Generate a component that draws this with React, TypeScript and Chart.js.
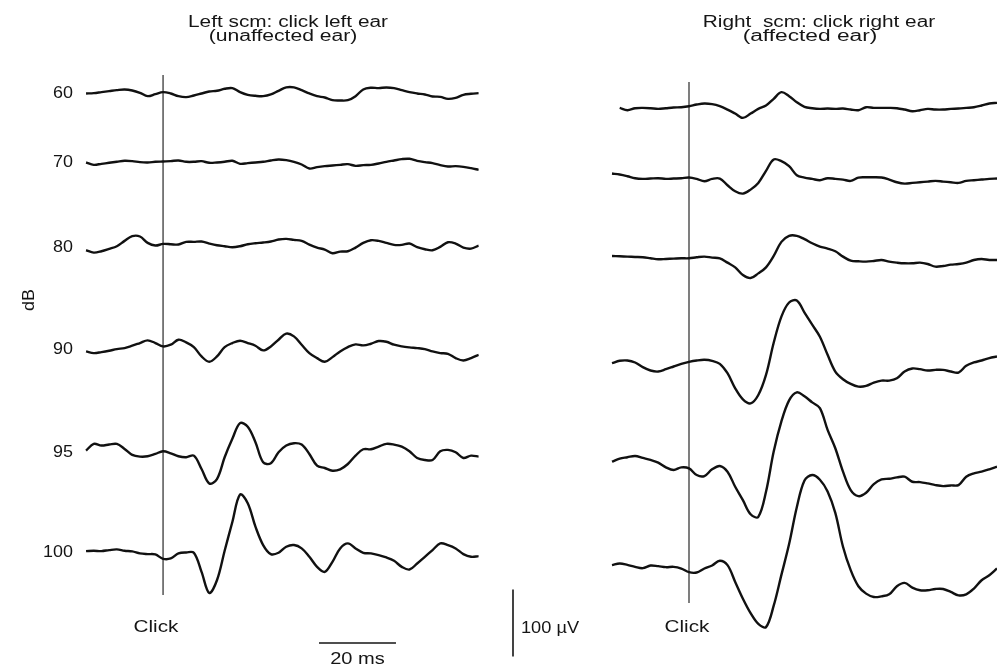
import React, { useEffect, useRef } from "react";
import { Chart, registerables } from "chart.js";

Chart.register(...registerables);

// ---- time grid (ms after click) ----
const TIME_LEFT = [-20, -18, -16, -14, -12, -10, -8, -6, -4, -2, 0, 2, 4, 6, 8, 10, 12, 14, 16, 18, 20, 22, 24, 26, 28, 30, 32, 34, 36, 38, 40, 42, 44, 46, 48, 50, 52, 54, 56, 58, 60, 62, 64, 66, 68, 70, 72, 74, 76, 78, 80, 82];
const TIME_RIGHT = [-20, -18, -16, -14, -12, -10, -8, -6, -4, -2, 0, 2, 4, 6, 8, 10, 12, 14, 16, 18, 20, 22, 24, 26, 28, 30, 32, 34, 36, 38, 40, 42, 44, 46, 48, 50, 52, 54, 56, 58, 60, 62, 64, 66, 68, 70, 72, 74, 76, 78, 80];

// ---- stimulus levels (dB) ----
const DB_LABELS = ["60", "70", "80", "90", "95", "100"];

// ---- Left scm, click left ear (µV) ----
const LEFT_60 = [-0.5, 0, 1.5, 3, 4.5, 5.5, 4, 0.5, -4.5, -1.5, 1.5, -0.5, -4.5, -6, -3.5, -0.5, 2.5, 3.5, 6.5, 7.5, 1.5, -2.5, -4, -4.5, -2, 3.5, 8.5, 8.5, 4.5, -0.5, -4.5, -6.5, -10.5, -11, -10.5, -4.5, 5.5, 8, 7.5, 8.5, 7.5, 4.5, 1.5, -0.5, -2, -5, -5.5, -8.5, -7, -2.5, -1, 0];
const LEFT_70 = [0.5, -3, -1.5, 0, 1.5, 3, 2.5, 1, 0.5, 1.5, 2, 2.5, 3.5, 1.5, 1.5, 2.5, 0, 0.5, 1.5, 3, -1.5, -0.5, 0.5, 1.5, 3.5, 5, 4, 1.5, -2.5, -8.5, -6.5, -5, -4, -3, -2, -4.5, -3.5, -3, -1, 1.5, 3.5, 5.5, 6, 3, 1, -0.5, -3.5, -5.5, -5, -6, -8, -10.5];
const LEFT_80 = [-4.5, -8, -6, -2.5, 1.5, 9.5, 16.5, 16, 6.5, 2.5, 5, 4.5, 4, 8, 8, 8.5, 5.5, 3, 1.5, 0, 1.5, 4.5, 6, 7, 8.5, 11.5, 12.5, 11, 9.5, 4, -0.5, -3.5, -9, -6.5, -6, -0.5, 6.5, 10.5, 9.5, 6.5, 3.5, 3.5, 5.5, 0, -3, -4.5, 0.5, 7.5, 5.5, -0.5, -2, 2.5];
const LEFT_90 = [-2.5, -5, -3.5, -1.5, 1, 2.5, 6, 10, 14, 10, 5, 7.5, 15, 11, 4, -10, -18, -10, 4, 10, 13.5, 10, 6, -1, 5, 15, 24, 20, 7.5, -5, -12.5, -18, -11, -2.5, 4, 8, 6.5, 9, 13, 12, 7.5, 5, 3.5, 2.5, 1, -2.5, -5, -6, -12.5, -16, -12.5, -7.5];
const LEFT_95 = [2.5, 12.5, 10, 11.5, 12.5, 5, -4, -6.5, -6, -2.5, 1.5, -1.5, -6, -7.5, -5, -25, -46.5, -40, -7.5, 20, 43.5, 38, 15, -15, -16.5, 0, 10, 13.5, 11.5, -2.5, -20, -23.5, -27.5, -25.5, -17.5, -5, 4.5, 4.5, 8.5, 12.5, 11.5, 8.5, 1.5, -8.5, -11.5, -11.5, 1.5, 3.5, 0, -8.5, -5, -6.5];
const LEFT_100 = [1.5, 2, 1.5, 3, 4, 2, 1, -2, -3, -3.5, -10, -9.5, -2, -0.5, -1, -29.5, -61, -42, 2, 45, 86, 73, 38, 10.5, -3, -1, 8, 10.5, 5.5, -7, -22, -29.5, -14.5, 5.5, 13, 5.5, -1, -2, -4.5, -8, -13, -22, -26, -17, -7, 3, 13, 10.5, 5.5, -3, -7, -6];

// ---- Right scm, click right ear (µV) ----
const RIGHT_60 = [null, 0, -3.5, -0.5, 0, -0.5, -1.5, -0.5, 0.5, 1, 2.5, 5, 6.5, 5.5, 2.5, -2.5, -8.5, -15, -8.5, -1.5, 3.5, 13.5, 23.5, 17.5, 8.5, 1.5, -0.5, -1.5, -1, -1.5, -1, -2.5, -3.5, 1, 0, 0, 0, -0.5, -2.5, -5, -3.5, -1.5, -2.5, -2.5, -1.5, -1, 0, 1, 3.5, 6.5, 7.5];
const RIGHT_70 = [6, 4.5, 2, -1, -2, -1.5, -1, -2, -1.5, -1, 0, -2, -5.5, -2, -1.5, -11.5, -20.5, -24, -18, -8, 10, 27, 24.5, 17, 3.5, 0, -2, -4, -1, -2, -3, -5, 0, 0.5, 0.5, 0, -3, -7, -9, -8, -7, -6, -5, -6, -7, -8, -5, -4, -3, -2, -1.5];
const RIGHT_80 = [2, 1.5, 1, 0.5, 0, -1.5, -3, -2.5, -2, -1.5, -1.5, 0, 1, -0.5, -1.5, -8, -15, -26.5, -31, -24, -15, 2, 23, 32, 32, 27, 21, 16, 13, 9, 1, -5, -6, -6.5, -5.5, -4, -6.5, -8, -9, -9, -8, -10, -14, -13, -11, -10, -8, -4, -2.5, -4, -4];
const RIGHT_90 = [-2, 1.5, 2, -1, -8, -13, -14.5, -11, -7, -3, 0, 2, 3, 1.5, -3, -17, -39.5, -56, -62, -49.5, -19.5, 28.5, 67.5, 88.5, 91.5, 73.5, 55.5, 37.5, 10.5, -14.5, -26, -33, -37, -36, -31, -28, -28, -24.5, -14.5, -10, -11, -13, -12, -12, -14.5, -16, -6, -1, 2, 5.5, 8];
const RIGHT_95 = [5, 9.5, 11.5, 13.5, 10.5, 7.5, 3.5, -3.5, -7.5, -3.5, -5, -15, -16.5, -6.5, -1.5, -10, -32.5, -52.5, -73.5, -77.5, -40, 20, 65, 96.5, 108.5, 102.5, 93.5, 85, 52.5, 25, -10, -37.5, -46.5, -41.5, -28.5, -21.5, -20.5, -18.5, -17.5, -25, -25.5, -27.5, -30, -31.5, -30.5, -30, -17.5, -12.5, -10, -6.5, -2.5];
const RIGHT_100 = [1.5, 4, 2, -1, -3, 1, 0, -1.5, -1, -3.5, -9, -9.5, -3.5, 1, 8, 1.5, -23.5, -48.5, -70, -86, -91, -59, -13, 33, 88, 128, 136, 129, 111.5, 79.5, 29, -6, -30, -41, -46, -45, -42, -30, -25, -32, -36, -36, -34, -34, -38.5, -43.5, -42, -33.5, -21, -13.5, -3.5];

const LEFT_TRACES = [LEFT_60, LEFT_70, LEFT_80, LEFT_90, LEFT_95, LEFT_100];
const RIGHT_TRACES = [RIGHT_60, RIGHT_70, RIGHT_80, RIGHT_90, RIGHT_95, RIGHT_100];

// ---- layout (stacking offsets in µV, scale range) ----
const Y_MIN = -994;
const Y_MAX = 0;
const LEFT_BASE = [-139, -243, -369, -522, -675, -824];
const RIGHT_BASE = [-161, -265, -384, -540, -694, -845];
const SCALE_MS = 20;
const SCALE_UV = 100;

const FAMILY = '"Liberation Sans", Arial, Helvetica, sans-serif';
const INK = "#151515";

function drawText(
  ctx: CanvasRenderingContext2D,
  text: string,
  x: number,
  y: number,
  size: number,
  sx: number,
  align: CanvasTextAlign,
  baseline: CanvasTextBaseline = "alphabetic",
  rot = 0
) {
  ctx.save();
  ctx.translate(x, y);
  if (rot) ctx.rotate(rot);
  ctx.scale(sx, 1);
  ctx.font = `${size}px ${FAMILY}`;
  ctx.fillStyle = INK;
  ctx.textAlign = align;
  ctx.textBaseline = baseline;
  ctx.fillText(text, 0, 0);
  ctx.restore();
}

function vline(ctx: CanvasRenderingContext2D, x: number, y1: number, y2: number, w: number) {
  ctx.save();
  ctx.strokeStyle = INK;
  ctx.lineWidth = w;
  ctx.beginPath();
  ctx.moveTo(x, y1);
  ctx.lineTo(x, y2);
  ctx.stroke();
  ctx.restore();
}

function buildDatasets(traces: (number | null)[][], base: number[], times: number[]) {
  return traces.map((vals, i) => ({
    label: DB_LABELS[i] + " dB",
    data: vals.map((v, k) => ({ x: times[k], y: v === null ? null : base[i] + v })),
    borderColor: "#111",
    borderWidth: 2.4,
    pointRadius: 0,
    tension: 0.35,
    fill: false,
    spanGaps: false,
  }));
}

function baseOptions(xmin: number, xmax: number, padding: any) {
  return {
    responsive: false,
    maintainAspectRatio: false,
    animation: false as const,
    layout: { padding },
    plugins: { legend: { display: false }, title: { display: false }, tooltip: { enabled: false } },
    scales: {
      x: { type: "linear" as const, min: xmin, max: xmax, display: false },
      y: { type: "linear" as const, min: Y_MIN, max: Y_MAX, display: false },
    },
  };
}

export default function App() {
  const leftRef = useRef<HTMLCanvasElement>(null);
  const rightRef = useRef<HTMLCanvasElement>(null);

  useEffect(() => {
    const leftDecor = {
      id: "leftDecor",
      beforeDatasetsDraw(chart: any) {
        const { ctx, scales } = chart;
        vline(ctx, scales.x.getPixelForValue(0), 75, 595, 1.1);
      },
      afterDraw(chart: any) {
        const { ctx, scales } = chart;
        const x = scales.x;
        const y = scales.y;
        drawText(ctx, "Left scm: click left ear", 288, 27, 16, 1.3, "center");
        drawText(ctx, "(unaffected ear)", 283, 41, 16, 1.32, "center");
        DB_LABELS.forEach((lab, i) => {
          drawText(ctx, lab, 73, y.getPixelForValue(LEFT_BASE[i]), 16, 1.12, "right", "middle");
        });
        drawText(ctx, "dB", 30, 300, 16, 1.12, "center", "middle", -Math.PI / 2);
        drawText(ctx, "Click", 156, 632, 17, 1.22, "center");
        // 20 ms bar
        const t0 = 40.5;
        const xa = x.getPixelForValue(t0);
        const xb = x.getPixelForValue(t0 + SCALE_MS);
        ctx.save();
        ctx.strokeStyle = INK;
        ctx.lineWidth = 1.4;
        ctx.beginPath();
        ctx.moveTo(xa, 643);
        ctx.lineTo(xb, 643);
        ctx.stroke();
        ctx.restore();
        drawText(ctx, "20 ms", (xa + xb) / 2, 664, 17, 1.18, "center");
        // 100 µV bar
        const v0 = -880;
        const ya = y.getPixelForValue(v0);
        const yb = y.getPixelForValue(v0 - SCALE_UV);
        vline(ctx, 513, ya, yb, 1.6);
        drawText(ctx, "100 µV", 521, 633, 17, 1.07, "left");
      },
    };

    const rightDecor = {
      id: "rightDecor",
      beforeDatasetsDraw(chart: any) {
        const { ctx, scales } = chart;
        vline(ctx, scales.x.getPixelForValue(0), 82, 603, 1.1);
      },
      afterDraw(chart: any) {
        const { ctx } = chart;
        drawText(ctx, "Right  scm: click right ear", 239, 27, 16, 1.3, "center");
        drawText(ctx, "(affected ear)", 230, 41, 16, 1.42, "center");
        drawText(ctx, "Click", 107, 632, 17, 1.22, "center");
      },
    };

    const left = new Chart(leftRef.current as HTMLCanvasElement, {
      type: "line",
      data: { datasets: buildDatasets(LEFT_TRACES, LEFT_BASE, TIME_LEFT) as any },
      options: baseOptions(-21, 82, { left: 82.2, right: 101.25, top: 0, bottom: 0 }) as any,
      plugins: [leftDecor],
    });
    const right = new Chart(rightRef.current as HTMLCanvasElement, {
      type: "line",
      data: { datasets: buildDatasets(RIGHT_TRACES, RIGHT_BASE, TIME_RIGHT) as any },
      options: baseOptions(-21, 80, { left: 28.15, right: 0, top: 0, bottom: 0 }) as any,
      plugins: [rightDecor],
    });
    return () => {
      left.destroy();
      right.destroy();
    };
  }, []);

  return (
    <div style={{ position: "absolute", left: 0, top: 0, width: 997, height: 666, background: "#fff" }}>
      <canvas ref={leftRef} width={580} height={666} style={{ position: "absolute", left: 0, top: 0, display: "block" }} />
      <canvas ref={rightRef} width={417} height={666} style={{ position: "absolute", left: 580, top: 0, display: "block" }} />
    </div>
  );
}
